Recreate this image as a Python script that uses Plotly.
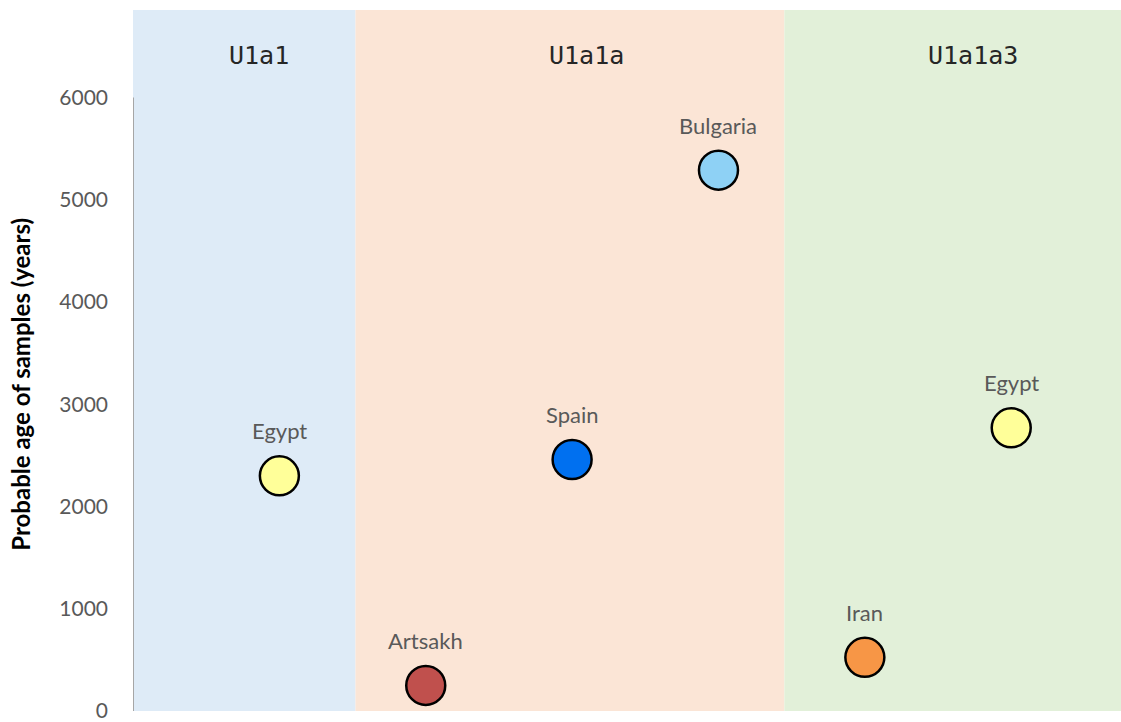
import plotly.graph_objects as go

# haplogroup bands (x edges on the sample axis)
band_names = ["U1a1", "U1a1a", "U1a1a3"]
band_edges = [0, 1.52, 4.45, 6.75]
band_colors = ["#DEEBF7", "#FBE5D6", "#E2F0D9"]
band_title_x = [0.86, 3.1, 5.74]

# samples
sample_x = [1, 2, 3, 4, 5, 6]
sample_age = [2300, 250, 2460, 5290, 525, 2770]
sample_label = ["Egypt", "Artsakh", "Spain", "Bulgaria", "Iran", "Egypt"]
sample_color = ["#FFFF99", "#C0504D", "#0070F0", "#8ED1F5", "#F79646", "#FFFF99"]

y_ticks = [0, 1000, 2000, 3000, 4000, 5000, 6000]
Y_MAX = 6857

LABEL_FONT = dict(family="Lato, Open Sans, sans-serif", size=22, color="#595959")

fig = go.Figure()

for i, name in enumerate(band_names):
    fig.add_shape(
        type="rect", xref="x", yref="paper",
        x0=band_edges[i], x1=band_edges[i + 1], y0=0, y1=1,
        fillcolor=band_colors[i], line_width=0, layer="below",
    )
    fig.add_annotation(
        x=band_title_x[i], y=1, xref="x", yref="paper",
        yanchor="middle", yshift=-45, showarrow=False,
        text=name, font=dict(family="DejaVu Sans Mono, monospace", size=25, color="#262626"),
    )

# left axis line only up to the last tick
fig.add_shape(
    type="line", xref="x", yref="y",
    x0=0, x1=0, y0=0, y1=y_ticks[-1],
    line=dict(color="#A6A6A6", width=2),
)

fig.add_trace(go.Scatter(
    x=sample_x, y=sample_age,
    mode="markers",
    marker=dict(size=39, color=sample_color, line=dict(color="black", width=2.5)),
    hoverinfo="skip",
    showlegend=False,
))

for x, y, lab in zip(sample_x, sample_age, sample_label):
    fig.add_annotation(
        x=x, y=y, xref="x", yref="y", showarrow=False,
        yshift=45, text=lab, font=LABEL_FONT,
    )

fig.add_annotation(
    x=-0.114, y=0.466, xref="paper", yref="paper",
    xanchor="center", yanchor="middle",
    showarrow=False, textangle=-90,
    text="<b>Probable age of samples (years)</b>",
    font=dict(family="Lato, Open Sans, sans-serif", size=24, color="black"),
)

fig.update_layout(
    width=1121, height=722,
    margin=dict(l=133, r=0, t=10, b=8),
    paper_bgcolor="white",
    plot_bgcolor="white",
    xaxis=dict(range=[band_edges[0], band_edges[-1]], visible=False, fixedrange=True),
    yaxis=dict(
        range=[0, Y_MAX], tickvals=y_ticks, showgrid=False, zeroline=False,
        showline=False, ticks="", ticklabelstandoff=24, ticklabeloverflow="allow",
        tickfont=dict(family="Lato, Open Sans, sans-serif", size=21, color="#595959"),
    ),
)

# drop the default body margin so the figure sits at the page corner
fig.write_html(
    "out.html",
    config={"displayModeBar": False},
    post_script="document.body.style.margin='0';",
)
